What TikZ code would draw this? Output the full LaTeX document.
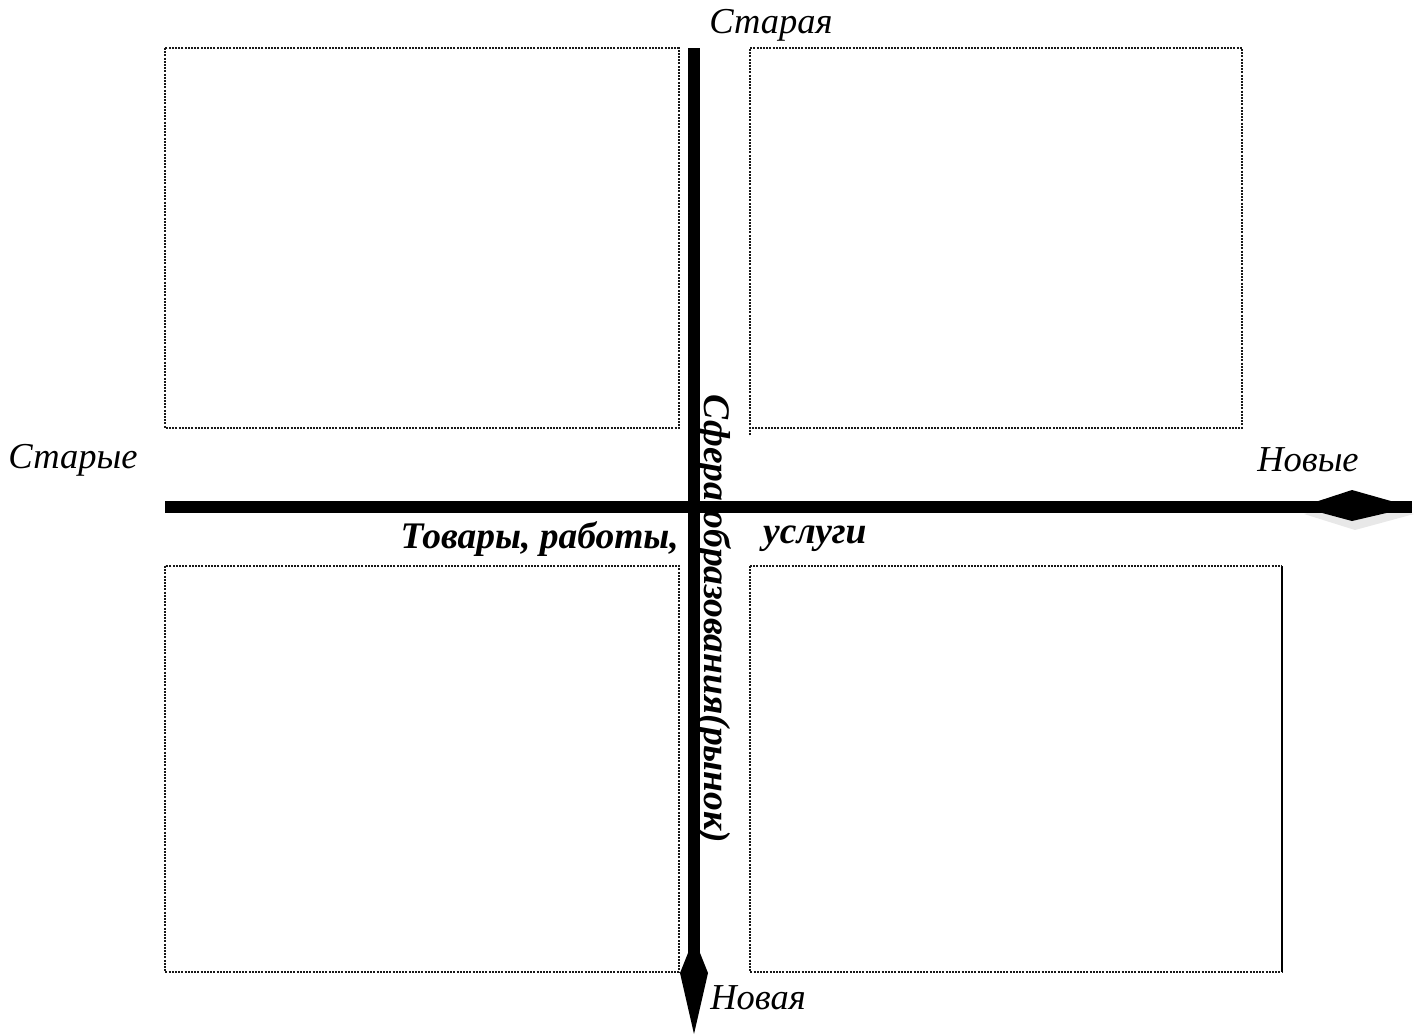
\documentclass[tikz,border=0pt]{standalone}
\usepackage{fontspec}
\setmainfont{Liberation Serif}
\begin{document}
\begin{tikzpicture}[x=1pt,y=-1pt,
  quad/.style={draw=black!90,line width=1.5pt,dash pattern=on 2pt off 1.2pt},
  axis/.style={line width=11.5pt},
  lab/.style={font=\fontsize{36.5}{40}\selectfont\itshape,inner sep=0pt},
  blab/.style={font=\fontsize{37.5}{41}\selectfont\bfseries\itshape,inner sep=0pt}]
\useasboundingbox (0,0) rectangle (1419,1034);
% quadrant boxes
\draw[quad] (165,48) rectangle (679,428);
\draw[quad] (750,435) -- (750,48) -- (1242,48) -- (1242,428) -- (750,428);
\draw[quad] (165,566) rectangle (679,972);
\draw[quad] (750,566) -- (750,972) -- (1282,972);
\draw[line width=1.5pt] (1282,566) -- (1282,972);
\draw[quad] (750,566) -- (1282,566);
% axes
\coordinate (vtop) at (694,48);
\coordinate (vend) at (694,975);
\coordinate (hleft) at (165,507);
\coordinate (hend) at (1412,507);
\fill[black!9] (1304,514) -- (1355,500) -- (1414,514) -- (1355,530) -- cycle;
\draw[axis] (vtop) -- (vend);
\draw[axis] (hleft) -- (hend);
\fill (694,938) -- (708,973) -- (694,1034) -- (680,973) -- cycle;
\fill (1300,507) -- (1352,490) -- (1412,507) -- (1352,521) -- cycle;
% labels
\node[lab] (staraya) at (771,25) {Старая};
\node[lab] (starye) at (73,460) {Старые};
\node[lab] (novye) at (1308,460) {Новые};
\node[lab] (novaya) at (758,998) {Новая};
\node[blab,anchor=east] (tovary) at (679,539) {Товары, работы,};
\node[blab,anchor=west] (uslugi) at (763,539) {услуги};
\node[blab,rotate=-90] (sfera) at (714,619) {Сфера образования(рынок)};
\end{tikzpicture}
\end{document}
